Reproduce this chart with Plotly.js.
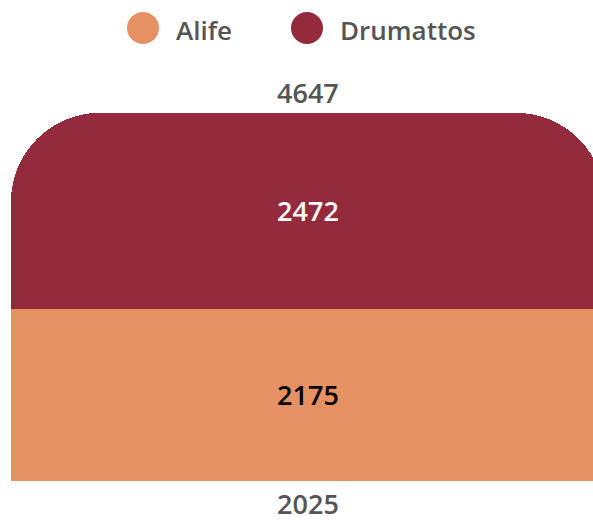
<!DOCTYPE html>
<html>
<head>
<meta charset="utf-8">
<script src="https://cdn.plot.ly/plotly-3.0.1.min.js"></script>
<style>html,body{margin:0;padding:0;background:#fff;}#chart{width:593px;height:522px;}</style>
</head>
<body>
<div id="chart"></div>
<script>
const categories = ["2025"];
const seriesNames = ["Alife", "Drumattos"];
const alifeValues = [2175];
const drumattosValues = [2472];
const seriesColors = ["#E69163", "#942B3C"];
const insideTextColors = ["#000000", "#ffffff"];

const FONT = "'Open Sans', Roboto, 'DejaVu Sans', sans-serif";
const seriesValues = [alifeValues, drumattosValues];
const totals = categories.map((c, i) => seriesValues.reduce((s, v) => s + v[i], 0));

const W = 593, H = 522;
const margin = {l: 11, r: 0, t: 69, b: 41};
const plotW = W - margin.l - margin.r;
const plotH = H - margin.t - margin.b;

const traces = seriesNames.map((name, k) => ({
  type: "bar",
  name: name,
  x: categories,
  y: seriesValues[k],
  marker: {color: seriesColors[k]},
  text: seriesValues[k].map(String),
  textposition: "inside",
  insidetextanchor: "middle",
  textangle: 0,
  textfont: {family: FONT, size: 27, weight: 600, color: insideTextColors[k]},
  hoverinfo: "x+y+name",
  showlegend: false
}));

// custom legend: large circle + label, built from series arrays
const legendCenters = [143, 307];
const legendY = 28;
const shapes = [];
const annotations = [];
seriesNames.forEach((name, k) => {
  const xp = (legendCenters[k] - margin.l) / plotW;
  const yp = (H - margin.b - legendY) / plotH;
  shapes.push({
    type: "circle", xref: "paper", yref: "paper",
    xsizemode: "pixel", ysizemode: "pixel",
    xanchor: xp, yanchor: yp,
    x0: -16, x1: 16, y0: -16, y1: 16,
    fillcolor: seriesColors[k], line: {width: 0}
  });
  annotations.push({
    xref: "paper", yref: "paper",
    x: xp, y: yp, xshift: 31, yshift: -2,
    xanchor: "left", yanchor: "middle",
    text: name, showarrow: false,
    font: {family: FONT, size: 26, weight: 600, color: "#555555"}
  });
});
// totals above the stack (x given as category index)
categories.forEach((c, i) => {
  annotations.push({
    x: i, y: totals[i], xref: "x", yref: "y",
    text: String(totals[i]), showarrow: false,
    yanchor: "bottom", yshift: 0,
    font: {family: FONT, size: 27, weight: 600, color: "#555555"}
  });
});

const layout = {
  width: W, height: H,
  margin: margin,
  paper_bgcolor: "#ffffff",
  plot_bgcolor: "#ffffff",
  barmode: "stack",
  bargap: 0,
  barcornerradius: 89,
  showlegend: false,
  font: {family: FONT, color: "#555555"},
  xaxis: {
    type: "category",
    range: [-0.5, 0.48],
    showgrid: false, zeroline: false, showline: false,
    ticks: "", fixedrange: true,
    ticklabelstandoff: 5,
    tickfont: {family: FONT, size: 27, weight: 600, color: "#555555"}
  },
  yaxis: {
    range: [0, 5200],
    showgrid: false, zeroline: false, showline: false,
    showticklabels: false, ticks: "", fixedrange: true
  },
  shapes: shapes,
  annotations: annotations
};

Plotly.newPlot("chart", traces, layout, {displayModeBar: false, staticPlot: true});
</script>
</body>
</html>
